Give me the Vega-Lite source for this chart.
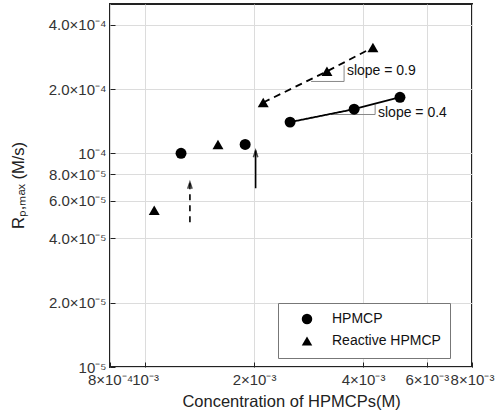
{
  "$schema": "https://vega.github.io/schema/vega-lite/v6.json",
  "width": 362,
  "height": 363,
  "autosize": {"type": "none"},
  "padding": {"left": 110, "top": 4, "right": 27, "bottom": 51},
  "background": "white",
  "config": {
    "font": "Liberation Sans",
    "view": {"stroke": "#222", "strokeWidth": 2},
    "axis": {
      "domain": false,
      "grid": true,
      "gridColor": "#dcdcdc",
      "gridWidth": 1,
      "ticks": true,
      "tickSize": -5,
      "tickColor": "#222",
      "labelColor": "#333",
      "labelFont": "Liberation Sans",
      "labelFontSize": 15,
      "titleFont": "Liberation Sans",
      "titleFontWeight": "normal",
      "titleColor": "#222",
      "titleFontSize": 16.5
    },
    "legend": {
      "labelFont": "Liberation Sans",
      "labelFontSize": 14,
      "labelColor": "#111"
    }
  },
  "resolve": {"scale": {"strokeDash": "independent"}},
  "datasets": {
    "points": [
      {"type": "HPMCP", "conc": 0.001257, "rate": 0.000100},
      {"type": "HPMCP", "conc": 0.00189, "rate": 0.000110},
      {"type": "HPMCP", "conc": 0.002515, "rate": 0.000140},
      {"type": "HPMCP", "conc": 0.00378, "rate": 0.000161},
      {"type": "HPMCP", "conc": 0.00506, "rate": 0.000183},
      {"type": "Reactive HPMCP", "conc": 0.00106, "rate": 0.0000542},
      {"type": "Reactive HPMCP", "conc": 0.00159, "rate": 0.000110},
      {"type": "Reactive HPMCP", "conc": 0.00212, "rate": 0.000173},
      {"type": "Reactive HPMCP", "conc": 0.00318, "rate": 0.000242},
      {"type": "Reactive HPMCP", "conc": 0.00426, "rate": 0.000313}
    ],
    "fits": [
      {"type": "HPMCP", "conc": 0.002515, "rate": 0.000140},
      {"type": "HPMCP", "conc": 0.00378, "rate": 0.000161},
      {"type": "HPMCP", "conc": 0.00506, "rate": 0.000183},
      {"type": "Reactive HPMCP", "conc": 0.00212, "rate": 0.000173},
      {"type": "Reactive HPMCP", "conc": 0.00318, "rate": 0.000242},
      {"type": "Reactive HPMCP", "conc": 0.00426, "rate": 0.000313}
    ],
    "slopes": [
      {"g": "a", "i": 1, "conc": 0.002875, "rate": 0.000217},
      {"g": "a", "i": 2, "conc": 0.003546, "rate": 0.000217},
      {"g": "a", "i": 3, "conc": 0.003546, "rate": 0.000258},
      {"g": "b", "i": 1, "conc": 0.003265, "rate": 0.000152},
      {"g": "b", "i": 2, "conc": 0.00432, "rate": 0.000152},
      {"g": "b", "i": 3, "conc": 0.00432, "rate": 0.0001694}
    ],
    "notes": [
      {"t": "slope = 0.9", "conc": 0.00361, "rate": 0.000242},
      {"t": "slope = 0.4", "conc": 0.0044, "rate": 0.000154}
    ],
    "arrows": [
      {"kind": "dashed", "conc": 0.00133, "from": 0.0000476, "to": 0.0000732},
      {"kind": "solid", "conc": 0.00202, "from": 0.0000686, "to": 0.000103}
    ]
  },
  "layer": [
    {
      "data": {"name": "slopes"},
      "mark": {"type": "line", "color": "#888", "strokeWidth": 1},
      "encoding": {
        "x": {
          "field": "conc", "type": "quantitative",
          "scale": {"type": "log", "domain": [0.0008, 0.008], "nice": false},
          "axis": {
            "title": "Concentration of HPMCPs(M)",
            "values": [0.0008, 0.001, 0.002, 0.004, 0.006, 0.008],
            "labelExpr": "datum.value < 0.0009 ? '8×10⁻⁴' : datum.value < 0.0015 ? '10⁻³' : datum.value < 0.003 ? '2×10⁻³' : datum.value < 0.005 ? '4×10⁻³' : datum.value < 0.007 ? '6×10⁻³' : '8×10⁻³'",
            "labelOverlap": false,
            "labelFlush": false,
            "labelBound": false,
            "labelPadding": 10,
            "titlePadding": 6
          }
        },
        "y": {
          "field": "rate", "type": "quantitative",
          "scale": {"type": "log", "domain": [0.00001, 0.0005], "nice": false},
          "axis": {
            "title": "Rₚ,ₘₐₓ (M/s)",
            "values": [0.00001, 0.00002, 0.00004, 0.00006, 0.00008, 0.0001, 0.0002, 0.0004],
            "labelExpr": "datum.value < 1.5e-5 ? '10⁻⁵' : datum.value < 3e-5 ? '2.0×10⁻⁵' : datum.value < 5e-5 ? '4.0×10⁻⁵' : datum.value < 7e-5 ? '6.0×10⁻⁵' : datum.value < 9e-5 ? '8.0×10⁻⁵' : datum.value < 1.5e-4 ? '10⁻⁴' : datum.value < 3e-4 ? '2.0×10⁻⁴' : '4.0×10⁻⁴'",
            "labelOverlap": false,
            "labelFlush": false,
            "labelBound": false,
            "labelPadding": 9,
            "titleX": -84,
            "titleY": 181
          }
        },
        "detail": {"field": "g"},
        "order": {"field": "i"}
      }
    },
    {
      "data": {"name": "fits"},
      "mark": {"type": "line", "color": "black", "strokeWidth": 1.8},
      "encoding": {
        "x": {"field": "conc", "type": "quantitative"},
        "y": {"field": "rate", "type": "quantitative"},
        "detail": {"field": "type"},
        "strokeDash": {
          "field": "type", "type": "nominal",
          "scale": {"domain": ["HPMCP", "Reactive HPMCP"], "range": [[1, 0], [7, 5]]},
          "legend": null
        }
      }
    },
    {
      "data": {"name": "arrows"},
      "mark": {"type": "rule", "color": "black", "strokeWidth": 1.6},
      "encoding": {
        "x": {"field": "conc", "type": "quantitative"},
        "y": {"field": "from", "type": "quantitative"},
        "y2": {"field": "to"},
        "strokeDash": {
          "field": "kind", "type": "nominal",
          "scale": {"domain": ["dashed", "solid"], "range": [[6, 5], [1, 0]]},
          "legend": null
        }
      }
    },
    {
      "data": {"name": "arrows"},
      "mark": {"type": "point", "shape": "M-0.8,2.4L0,0L0.8,2.4", "size": 30, "filled": false, "stroke": "black", "strokeWidth": 1.6},
      "encoding": {
        "x": {"field": "conc", "type": "quantitative"},
        "y": {"field": "to", "type": "quantitative"}
      }
    },
    {
      "data": {"name": "notes"},
      "mark": {"type": "text", "align": "left", "baseline": "middle", "fontSize": 14, "color": "#111", "font": "Liberation Sans"},
      "encoding": {
        "x": {"field": "conc", "type": "quantitative"},
        "y": {"field": "rate", "type": "quantitative"},
        "text": {"field": "t"}
      }
    },
    {
      "data": {"name": "points"},
      "mark": {"type": "point", "filled": true, "color": "black", "opacity": 1, "size": 120},
      "encoding": {
        "x": {"field": "conc", "type": "quantitative"},
        "y": {"field": "rate", "type": "quantitative"},
        "shape": {
          "field": "type", "type": "nominal",
          "scale": {"domain": ["HPMCP", "Reactive HPMCP"], "range": ["circle", "triangle-up"]},
          "legend": {
            "title": null,
            "orient": "none",
            "legendX": 168,
            "legendY": 299,
            "padding": 9,
            "strokeColor": "#777",
            "fillColor": "white",
            "symbolOffset": 13,
            "symbolSize": 110,
            "symbolFillColor": "black",
            "symbolStrokeColor": "black",
            "labelOffset": 18,
            "rowPadding": 5
          }
        }
      }
    }
  ]
}
